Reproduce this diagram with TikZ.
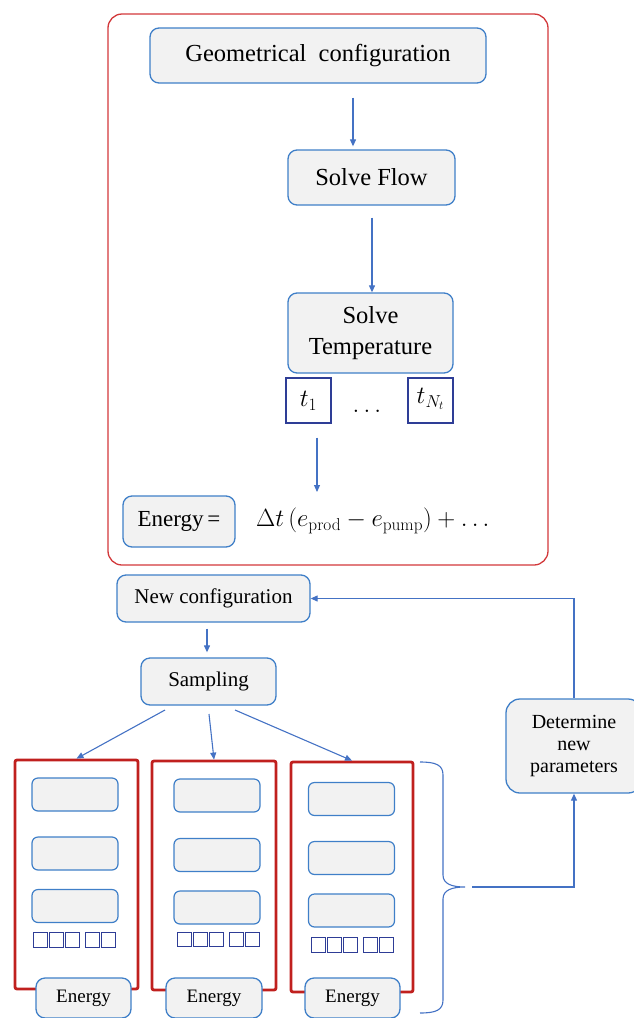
\documentclass[tikz,border=0pt]{standalone}
\usepackage[no-math]{fontspec}
\setmainfont{Liberation Serif}
\usetikzlibrary{arrows.meta,calc}
\definecolor{bblue}{HTML}{3F7FC8}
\definecolor{ablue}{HTML}{4472C4}
\definecolor{bgray}{HTML}{F2F2F2}
\definecolor{rred}{HTML}{D2383A}
\definecolor{cred}{HTML}{C0201E}
\definecolor{navy}{HTML}{2E3D96}
\begin{document}
\begin{tikzpicture}[x=1pt,y=-1pt,
 proc/.style={draw=bblue,fill=bgray,line width=1.3pt,rounded corners=9pt,inner sep=0pt,align=center},
 inbox/.style={draw=bblue,fill=bgray,line width=1.2pt,rounded corners=6pt,inner sep=0pt,minimum width=86pt,minimum height=33pt},
 tbox/.style={draw=navy,fill=white,line width=1.2pt,inner sep=0pt,minimum width=45pt,minimum height=45pt},
 sq/.style={draw=navy,line width=1pt,inner sep=0pt,minimum width=14.5pt,minimum height=14.5pt},
 col/.style={draw=cred,line width=2.8pt,rounded corners=2pt,inner sep=0pt},
 arr/.style={draw=ablue,line width=1.1pt,-{Triangle[length=7pt,width=6pt]}},
 big/.style={font=\fontsize{24.5}{31}\selectfont},
 mid/.style={font=\fontsize{21}{24}\selectfont},
 small/.style={font=\fontsize{19}{22}\selectfont}
]
\useasboundingbox (0,0) rectangle (633,1018);

% ---- upper frame ----
\draw[rred,line width=1.3pt,rounded corners=14pt] (108,14) rectangle (548,565);

\node[proc,big,minimum width=336pt,minimum height=55pt] (geo) at (318,55.5) {Geometrical\ \ configuration};
\node[proc,big,minimum width=167pt,minimum height=55pt] (flow) at (371.5,177.5) {Solve Flow};
\node[proc,big,minimum width=165pt,minimum height=80pt] (temp) at (370.5,333) {Solve\\Temperature};
\node[tbox,font=\fontsize{24}{26}\selectfont] (t1) at (308.5,400.5) {$t_1$};
\node[tbox,font=\fontsize{24}{26}\selectfont,text depth=9pt] (tN) at (430.5,400.5) {$t_{N_t}$};
\node[font=\fontsize{26}{28}\selectfont,anchor=base] (dots) at (367,412) {$\dots$};
\node[proc,minimum width=112pt,minimum height=51pt,font=\fontsize{23}{26}\selectfont] (energy) at (179,521.5) {Energy\,=};
\node[anchor=west,inner sep=0pt,font=\fontsize{24}{26}\selectfont] (form) at (256,521) {$\Delta t\,(e_{\mathrm{prod}} - e_{\mathrm{pump}}) + \dots$};

\coordinate (a1) at (353,0);
\coordinate (a2) at (372,0);
\coordinate (a3) at (317,0);
\coordinate (fe) at (317,492);
\draw[arr,shorten <=14pt,shorten >=3pt] (geo.south -| a1) -- (flow.north -| a1);
\draw[arr,shorten <=12pt,shorten >=0pt] (flow.south -| a2) -- (temp.north -| a2);
\draw[arr,shorten <=14pt] (t1.south -| a3) -- (fe);

% ---- lower part ----
\node[proc,mid,minimum width=193pt,minimum height=47pt] (newconf) at (213.5,598.5) {New configuration};
\node[proc,mid,minimum width=135pt,minimum height=47pt] (samp) at (208.5,681.5) {Sampling};
\node[proc,font=\fontsize{20}{22}\selectfont,minimum width=136pt,minimum height=94pt,rounded corners=14pt] (det) at (574,746) {Determine\\new\\parameters};

\coordinate (a4) at (207,0);
\draw[arr,shorten <=6pt,shorten >=5pt] (newconf.south -| a4) -- (samp.north -| a4);
\draw[arr] (det.north) |- (newconf.east);

% columns
\node[col,minimum width=123pt,minimum height=229pt] (c1) at (76.5,874.5) {};
\node[col,minimum width=124pt,minimum height=229pt] (c2) at (214,875.5) {};
\node[col,minimum width=122pt,minimum height=230pt] (c3) at (352,877) {};

\node[inbox] (c1a) at (75,794.5) {};
\node[inbox] (c1b) at (75,853.5) {};
\node[inbox] (c1c) at (75,906) {};
\node[inbox] (c2a) at (217,795.5) {};
\node[inbox] (c2b) at (217,855) {};
\node[inbox] (c2c) at (217,907.5) {};
\node[inbox] (c3a) at (351.5,799) {};
\node[inbox] (c3b) at (351.5,858) {};
\node[inbox] (c3c) at (351.5,910.5) {};

\foreach \c/\xs/\ys in {1/33/940, 2/177/939.5, 3/311/945}{
  \foreach \i/\o in {1/0,2/16,3/32,4/52,5/68}{
    \node[sq] (c\c s\i) at (\xs+\o+7.25,\ys) {};
  }
}

\node[proc,small,minimum width=95pt,minimum height=40pt] (e1) at (83.5,998) {Energy};
\node[proc,small,minimum width=96pt,minimum height=40pt] (e2) at (214,998) {Energy};
\node[proc,small,minimum width=95pt,minimum height=40pt] (e3) at (352.5,998) {Energy};

\coordinate (s1) at (165,710);
\coordinate (s2) at (209,714);
\coordinate (s3) at (235,710);
\draw[arr] (s1) -- (c1.north);
\draw[arr] (s2) -- (c2.north);
\draw[arr] (s3) -- (c3.north);

% brace
\draw[ablue,line width=1.1pt] (420,762) .. controls (436,762) and (443,765) .. (443,775) -- (443,875)
  .. controls (443,884) and (452,887) .. (465,887)
  .. controls (452,887) and (443,890) .. (443,899) -- (443,1000)
  .. controls (443,1010) and (436,1013) .. (420,1013);
\coordinate (brt) at (472,887);
\draw[arr] (brt) -| (det.south);
\end{tikzpicture}
\end{document}
